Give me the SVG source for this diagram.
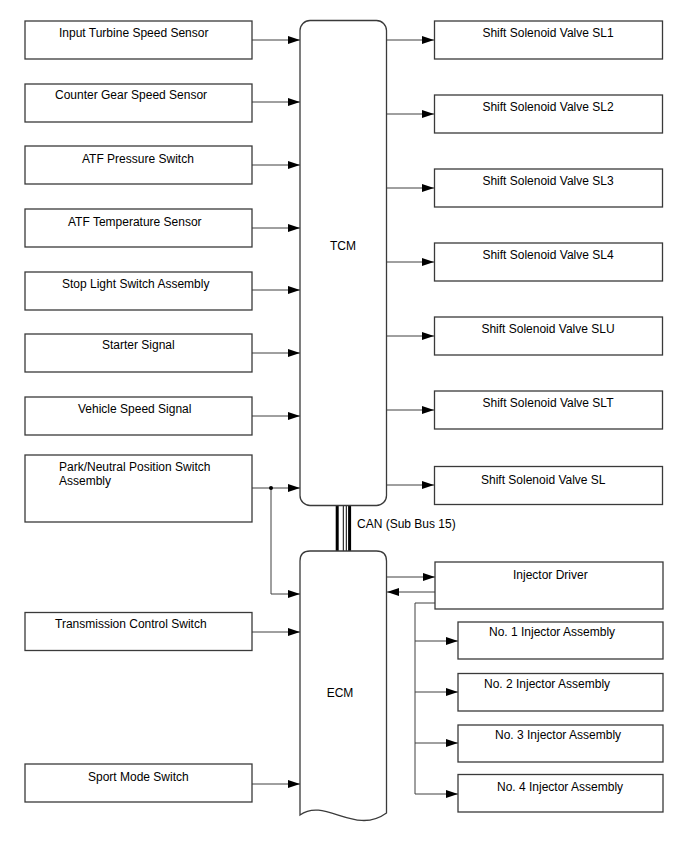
<svg xmlns="http://www.w3.org/2000/svg" width="688" height="852" viewBox="0 0 688 852">
<defs>
<style>
.box{fill:#fff;stroke:#3a3a3a;stroke-width:1.3}
.t{font-family:"Liberation Sans",Arial,sans-serif;font-size:12px;fill:#000}
.c{text-anchor:middle}
.ln{fill:none;stroke:#404040;stroke-width:1}
.ar{fill:none;stroke:#404040;stroke-width:1;marker-end:url(#ah)}
</style>
<marker id="ah" viewBox="0 0 12 8" refX="12" refY="4" markerWidth="12" markerHeight="8" markerUnits="userSpaceOnUse" orient="auto">
<path d="M0,0 L12,4 L0,8 Z" fill="#000"/>
</marker>
</defs>
<rect width="688" height="852" fill="#fff"/>

<g id="connectors">
<path class="ar" d="M252,40 H300"/>
<path class="ar" d="M252,102 H300"/>
<path class="ar" d="M252,165 H300"/>
<path class="ar" d="M252,228 H300"/>
<path class="ar" d="M252,290 H300"/>
<path class="ar" d="M252,353 H300"/>
<path class="ar" d="M252,416 H300"/>
<path class="ar" d="M252,488 H300"/>
<path class="ar" d="M271,488 V594 H300"/>
<circle cx="271" cy="488" r="2" fill="#000"/>
<path class="ar" d="M252,632 H300"/>
<path class="ar" d="M252,784 H300"/>
<path class="ar" d="M387,40 H434"/>
<path class="ar" d="M387,114 H434"/>
<path class="ar" d="M387,188 H434"/>
<path class="ar" d="M387,262 H434"/>
<path class="ar" d="M387,336 H434"/>
<path class="ar" d="M387,410 H434"/>
<path class="ar" d="M387,485 H434"/>
<path class="ar" d="M387,577 H435"/>
<path class="ar" d="M435,592 H387"/>
<path class="ln" d="M435,603 H415 V794"/>
<path class="ar" d="M415,641 H458"/>
<path class="ar" d="M415,692 H458"/>
<path class="ar" d="M415,743 H458"/>
<path class="ar" d="M415,794 H458"/>
<g id="can-bus">
<line x1="337.2" y1="506" x2="337.2" y2="551" stroke="#000" stroke-width="3"/>
<line x1="343.3" y1="506" x2="343.3" y2="551" stroke="#000" stroke-width="1"/>
<line x1="346.3" y1="506" x2="346.3" y2="551" stroke="#000" stroke-width="1"/>
<line x1="349.6" y1="506" x2="349.6" y2="551" stroke="#000" stroke-width="3"/>
<text class="t" x="357" y="527.5">CAN (Sub Bus 15)</text>
</g>
</g>

<g id="input-turbine"><rect class="box" x="25" y="21" width="227" height="38"/><text class="t" x="59" y="37">Input Turbine Speed Sensor</text></g>
<g id="counter-gear"><rect class="box" x="25" y="84" width="227" height="38"/><text class="t" x="55" y="99">Counter Gear Speed Sensor</text></g>
<g id="atf-pressure"><rect class="box" x="25" y="146" width="227" height="38"/><text class="t" x="82" y="162.5">ATF Pressure Switch</text></g>
<g id="atf-temp"><rect class="box" x="25" y="209" width="227" height="38"/><text class="t" x="68" y="225.5">ATF Temperature Sensor</text></g>
<g id="stop-light"><rect class="box" x="25" y="272" width="227" height="38"/><text class="t" x="62" y="287.5">Stop Light Switch Assembly</text></g>
<g id="starter"><rect class="box" x="25" y="334" width="227" height="38"/><text class="t" x="102" y="348.5">Starter Signal</text></g>
<g id="vehicle-speed"><rect class="box" x="25" y="397" width="227" height="38"/><text class="t" x="78" y="412.5">Vehicle Speed Signal</text></g>
<g id="park-neutral"><rect class="box" x="25" y="455" width="227" height="67"/><text class="t" x="59" y="470.5">Park/Neutral Position Switch</text><text class="t" x="59" y="484.5">Assembly</text></g>
<g id="trans-control"><rect class="box" x="25" y="612.5" width="227" height="38"/><text class="t" x="55" y="628">Transmission Control Switch</text></g>
<g id="sport-mode"><rect class="box" x="25" y="764" width="227" height="38"/><text class="t" x="88" y="780.5">Sport Mode Switch</text></g>

<g id="tcm"><rect class="box" x="300" y="20.5" width="86.5" height="485" rx="10"/><text class="t c" x="343" y="250">TCM</text></g>
<g id="ecm"><path class="box" d="M300,815 V561 Q300,551 310,551 H376.5 Q386.5,551 386.5,561 V813 C355,836 325,797 300,815 Z"/><text class="t c" x="340" y="697">ECM</text></g>

<g id="sl1"><rect class="box" x="434.5" y="21" width="228" height="38"/><text class="t c" x="548" y="37">Shift Solenoid Valve SL1</text></g>
<g id="sl2"><rect class="box" x="434.5" y="95" width="228" height="38"/><text class="t c" x="548" y="111">Shift Solenoid Valve SL2</text></g>
<g id="sl3"><rect class="box" x="434.5" y="169" width="228" height="38"/><text class="t c" x="548" y="185">Shift Solenoid Valve SL3</text></g>
<g id="sl4"><rect class="box" x="434.5" y="243" width="228" height="38"/><text class="t c" x="548" y="259">Shift Solenoid Valve SL4</text></g>
<g id="slu"><rect class="box" x="434.5" y="317" width="228" height="38"/><text class="t c" x="548" y="333">Shift Solenoid Valve SLU</text></g>
<g id="slt"><rect class="box" x="434.5" y="391" width="228" height="38"/><text class="t c" x="548" y="407">Shift Solenoid Valve SLT</text></g>
<g id="sl"><rect class="box" x="434.5" y="466.5" width="228" height="38"/><text class="t" x="481" y="483.5">Shift Solenoid Valve SL</text></g>

<g id="injector-driver"><rect class="box" x="435" y="562" width="228" height="47"/><text class="t" x="513" y="579">Injector Driver</text></g>
<g id="inj1"><rect class="box" x="458" y="622" width="205" height="37"/><text class="t" x="489" y="636">No. 1 Injector Assembly</text></g>
<g id="inj2"><rect class="box" x="458" y="673.5" width="205" height="37.5"/><text class="t" x="484" y="688">No. 2 Injector Assembly</text></g>
<g id="inj3"><rect class="box" x="458" y="725" width="205" height="37"/><text class="t" x="495" y="739">No. 3 Injector Assembly</text></g>
<g id="inj4"><rect class="box" x="458" y="774.5" width="205" height="37.5"/><text class="t" x="497" y="791">No. 4 Injector Assembly</text></g>
</svg>
